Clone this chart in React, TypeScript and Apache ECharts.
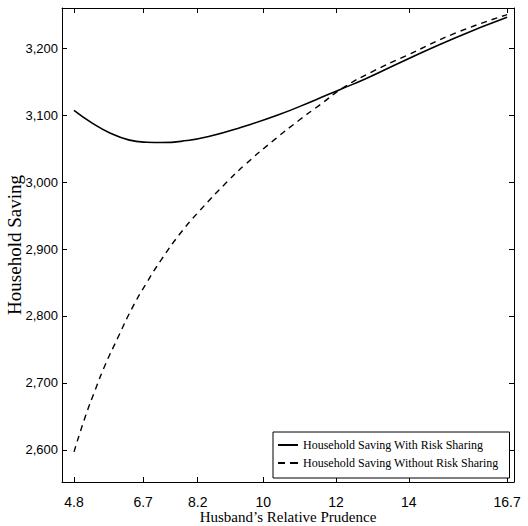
import React, { useEffect, useRef } from "react";
import * as echarts from "echarts";

// Husband's relative prudence (x) and household saving (y)
const prudenceWith = [4.8, 5.3, 5.8, 6.3, 6.8, 7.2, 7.9, 8.5, 9.4, 10.4, 11.4, 12.1, 12.8, 13.9, 15.3, 16.7];
const savingWith = [3107, 3088, 3073, 3063, 3059.5, 3059, 3062, 3068, 3082, 3100, 3122, 3138, 3154, 3182, 3216, 3246];
const prudenceWithout = [4.8, 5.1, 5.4, 5.65, 6.0, 6.4, 6.8, 7.2, 7.7, 8.25, 9.0, 9.5, 10.3, 11.0, 11.55, 12.2, 13.0, 13.9, 15.3, 16.7];
const savingWithout = [2597, 2648, 2692, 2726, 2767, 2812, 2850, 2884, 2922, 2957, 3000, 3026, 3063, 3093, 3115, 3141, 3165, 3188, 3223, 3250];
const xTicks = [4.8, 6.7, 8.2, 10, 12, 14, 16.7];
const yTicks = [2600, 2700, 2800, 2900, 3000, 3100, 3200];
const seriesNames = ["Household Saving With Risk Sharing", "Household Saving Without Risk Sharing"];

const SANS = "'Liberation Sans', Arial, sans-serif";
const SERIF = "'Liberation Serif', 'Times New Roman', serif";

export default function App() {
  const ref = useRef<HTMLDivElement>(null);
  useEffect(() => {
    if (!ref.current) return;
    const chart = echarts.init(ref.current, null, { renderer: "svg" });
    const fmtY = (v: number) => v.toLocaleString("en-US");
    const fmtX = (v: number) => String(v);
    const xBase = {
      type: "value",
      min: 4.47,
      max: 16.89,
      axisLine: { show: true, onZero: false, lineStyle: { color: "#000", width: 1 } },
      axisTick: { show: true, inside: true, length: 5, customValues: xTicks, lineStyle: { color: "#000" } },
      splitLine: { show: false },
    };
    const yBase = {
      type: "value",
      min: 2552,
      max: 3260,
      axisLine: { show: true, onZero: false, lineStyle: { color: "#000", width: 1 } },
      axisTick: { show: true, inside: true, length: 5, customValues: yTicks, lineStyle: { color: "#000" } },
      splitLine: { show: false },
    };
    chart.setOption({
      animation: false,
      backgroundColor: "#fff",
      grid: { left: 62, right: 14, top: 8, bottom: 44, containLabel: false, outerBoundsMode: "none" },
      xAxis: [
        {
          ...xBase,
          position: "bottom",
          name: "Husband\u2019s Relative Prudence",
          nameLocation: "middle",
          nameGap: 27,
          nameMoveOverlap: false,
          nameTextStyle: { fontFamily: SERIF, fontSize: 15, color: "#000" },
          axisLabel: { show: true, customValues: xTicks, formatter: fmtX, margin: 13, fontFamily: SANS, fontSize: 14, color: "#000" },
        },
        { ...xBase, position: "top", axisLabel: { show: false } },
      ],
      yAxis: [
        {
          ...yBase,
          position: "left",
          name: "Household Saving",
          nameLocation: "middle",
          nameGap: 38,
          nameMoveOverlap: false,
          nameTextStyle: { fontFamily: SERIF, fontSize: 19, color: "#000" },
          axisLabel: { show: true, customValues: yTicks, formatter: fmtY, margin: 4, fontFamily: SANS, fontSize: 13, color: "#000" },
        },
        { ...yBase, position: "right", axisLabel: { show: false } },
      ],
      legend: {
        show: true,
        orient: "vertical",
        left: 273,
        top: 432,
        padding: [7, 11, 9, 5],
        itemGap: 6,
        itemWidth: 20,
        itemHeight: 2,
        itemTextGap: 8,
        borderColor: "#000",
        borderWidth: 1,
        borderRadius: 0,
        backgroundColor: "#fff",
        itemStyle: { borderWidth: 0, color: "#000" },
        textStyle: { fontFamily: SERIF, fontSize: 12, color: "#000" },
        data: [
          { name: seriesNames[0], icon: "path://M0,0H20V2H0Z" },
          { name: seriesNames[1], icon: "path://M0,0H7V2H0Z M12,0H20V2H12Z" },
        ],
      },
      series: [
        {
          name: seriesNames[0],
          type: "line",
          data: prudenceWith.map((x, i) => [x, savingWith[i]]),
          smooth: true,
          symbol: "none",
          showSymbol: false,
          lineStyle: { color: "#000", width: 1.6, type: "solid" },
          itemStyle: { color: "#000" },
        },
        {
          name: seriesNames[1],
          type: "line",
          data: prudenceWithout.map((x, i) => [x, savingWithout[i]]),
          smooth: true,
          symbol: "none",
          showSymbol: false,
          lineStyle: { color: "#000", width: 1.4, type: [6, 5] },
          itemStyle: { color: "#000" },
        },
      ],
    });
    return () => chart.dispose();
  }, []);
  return <div ref={ref} style={{ width: 528, height: 526, position: "absolute", left: 0, top: 0 }} />;
}
